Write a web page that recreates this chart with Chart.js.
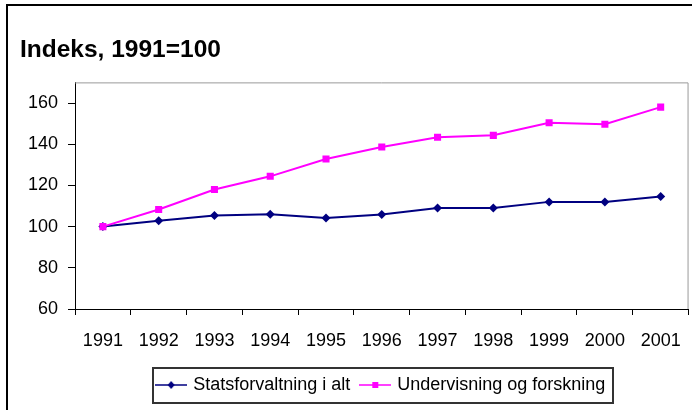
<!DOCTYPE html>
<html>
<head>
<meta charset="utf-8">
<script src="https://cdn.jsdelivr.net/npm/chart.js@4/dist/chart.umd.min.js"></script>
<style>
  html, body { margin: 0; padding: 0; background: #fff; }
  #wrap { width: 696px; height: 410px; position: relative; }
</style>
</head>
<body>
<div id="wrap"><canvas id="c"></canvas></div>
<script>
const years = ['1991','1992','1993','1994','1995','1996','1997','1998','1999','2000','2001'];
const statsforvaltning = [100, 102.8, 105.4, 106, 104.2, 105.9, 109, 109, 112, 112, 114.6];
const undervisning = [100, 108.3, 118, 124.4, 132.8, 138.6, 143.4, 144.3, 150.4, 149.7, 158];
const seriesNames = ['Statsforvaltning i alt', 'Undervisning og forskning'];
const titleText = 'Indeks, 1991=100';
const yTicks = [60, 80, 100, 120, 140, 160];

const FONT = '"Liberation Sans", Arial, sans-serif';
const NAVY = '#000080';
const PINK = '#ff00ff';

function legendIcon(color, shape) {
  const cv = document.createElement('canvas');
  cv.width = 32; cv.height = 10;
  const g = cv.getContext('2d');
  g.strokeStyle = color; g.lineWidth = 1.5;
  g.beginPath(); g.moveTo(0, 5); g.lineTo(32, 5); g.stroke();
  g.fillStyle = color;
  if (shape === 'diamond') {
    g.beginPath(); g.moveTo(16, 1); g.lineTo(19.5, 5); g.lineTo(16, 9); g.lineTo(12.5, 5); g.closePath(); g.fill();
  } else {
    g.fillRect(13, 2, 6, 6);
  }
  return cv;
}
const icons = [legendIcon(NAVY, 'diamond'), legendIcon(PINK, 'square')];

const framePlugin = {
  id: 'frames',
  beforeDatasetsDraw(chart) {
    const {ctx, chartArea: a} = chart;
    ctx.save();
    ctx.strokeStyle = '#999999';
    ctx.lineWidth = 1;
    ctx.beginPath();
    ctx.moveTo(a.left, a.top + 0.5); ctx.lineTo(a.right - 0.5, a.top + 0.5);
    ctx.lineTo(a.right - 0.5, a.bottom);
    ctx.stroke();
    ctx.restore();
  },
  afterDraw(chart) {
    const {ctx} = chart;
    ctx.save();
    ctx.fillStyle = '#000';
    ctx.fillRect(6, 4, 686, 2);
    ctx.fillRect(6, 4, 2, 406);
    const lg = chart.legend;
    if (lg && lg.legendHitBoxes && lg.legendHitBoxes.length) {
      const hb = lg.legendHitBoxes;
      const first = hb[0], last = hb[hb.length - 1];
      const cy = first.top + first.height / 2;
      const l = Math.round(first.left - 5), r = Math.round(last.left + last.width + 8);
      const t = Math.round(cy - 17.5), b = Math.round(cy + 17.5);
      ctx.strokeStyle = '#333';
      ctx.lineWidth = 2;
      ctx.strokeRect(l, t, r - l, b - t);
    }
    ctx.restore();
  }
};

new Chart(document.getElementById('c'), {
  type: 'line',
  data: {
    labels: years,
    datasets: [
      {
        label: seriesNames[0], data: statsforvaltning, order: 1,
        borderColor: NAVY, backgroundColor: NAVY, borderWidth: 2,
        pointStyle: 'rectRot', pointRadius: 4.5, pointBorderWidth: 0,
        pointBackgroundColor: NAVY, tension: 0
      },
      {
        label: seriesNames[1], data: undervisning, order: 0,
        borderColor: PINK, backgroundColor: PINK, borderWidth: 2,
        pointStyle: 'rect', pointRadius: 5, pointBorderWidth: 0,
        pointBackgroundColor: PINK, tension: 0
      }
    ]
  },
  options: {
    responsive: true,
    maintainAspectRatio: false,
    animation: false,
    layout: { padding: { left: 20, right: 7, top: 0, bottom: 6 } },
    scales: {
      x: {
        offset: true,
        grid: { offset: true, drawOnChartArea: false, drawTicks: true, tickLength: 6, color: '#000', lineWidth: 1 },
        border: { display: true, color: '#000', width: 1 },
        ticks: { color: '#000', font: { family: FONT, size: 18 }, padding: 15, maxRotation: 0, autoSkip: false },
        afterFit(s) { s.height = 55; }
      },
      y: {
        min: 60, max: 170,
        grid: { drawOnChartArea: false, drawTicks: true, tickLength: 7, color: '#000', lineWidth: 1 },
        border: { display: true, color: '#000', width: 1 },
        ticks: { stepSize: 20, includeBounds: false, color: '#000', font: { family: FONT, size: 18 }, padding: 10 },
        afterBuildTicks(s) { s.ticks = yTicks.map(v => ({ value: v })); },
        afterFit(s) { s.width = 55; }
      }
    },
    plugins: {
      title: {
        display: true, text: titleText, align: 'start', color: '#000',
        font: { family: FONT, size: 24.5, weight: 'bold' },
        padding: { top: 36, bottom: 17 }
      },
      legend: {
        position: 'bottom', fullSize: false,
        labels: {
          color: '#000', font: { family: FONT, size: 18 },
          usePointStyle: true, pointStyleWidth: 26, padding: 12,
          generateLabels(chart) {
            const items = Chart.defaults.plugins.legend.labels.generateLabels(chart);
            items.sort((a, b) => a.datasetIndex - b.datasetIndex);
            items.forEach((it) => { it.pointStyle = icons[it.datasetIndex]; });
            return items;
          }
        }
      },
      tooltip: { enabled: false }
    }
  },
  plugins: [framePlugin]
});
</script>
</body>
</html>
